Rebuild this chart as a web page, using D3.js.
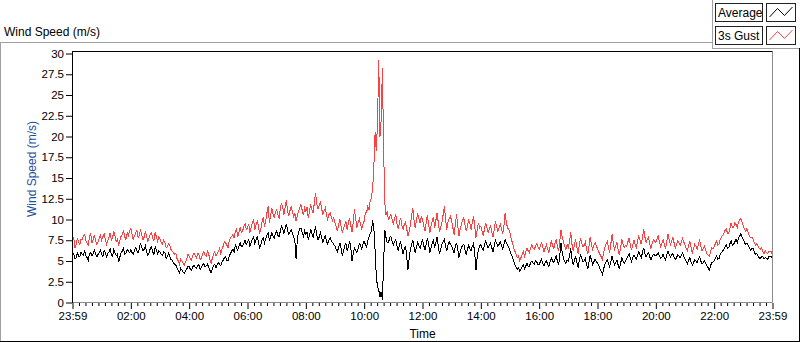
<!DOCTYPE html>
<html>
<head>
<meta charset="utf-8">
<script src="https://cdn.jsdelivr.net/npm/d3@7"></script>
<style>
  html, body { margin: 0; padding: 0; background: #ffffff; }
  svg { display: block; }
  text { font-family: "Liberation Sans", Arial, sans-serif; }
</style>
</head>
<body>
<svg id="chart" width="800" height="342"></svg>
<script>
// ---- data (2.5-minute samples starting 23:59, one row per hour) ----
const sampleMinutes = 2.5;
const avgSpeed = [
  5.6, 5.9, 5.3, 5.4, 6.0, 5.6, 5.5, 6.1, 5.8, 5.7, 6.2, 5.6, 5.4, 5.1, 5.9, 6.0, 5.6, 5.9, 6.3, 5.8, 5.5, 5.8, 6.0, 6.3,
  5.8, 5.5, 6.3, 6.0, 5.5, 5.9, 6.1, 6.5, 5.7, 5.6, 6.4, 6.0, 5.6, 5.8, 4.9, 5.5, 6.0, 6.2, 6.5, 5.8, 5.9, 6.4, 6.2, 6.0,
  6.4, 6.0, 5.8, 6.3, 6.6, 6.2, 6.0, 6.5, 7.2, 6.6, 6.2, 6.4, 6.8, 6.1, 5.7, 6.0, 6.5, 6.7, 6.1, 5.8, 6.7, 6.3, 5.9, 6.2,
  6.1, 5.8, 5.7, 6.1, 6.0, 5.3, 5.5, 5.9, 5.6, 5.2, 5.1, 4.8, 4.6, 4.5, 4.2, 3.9, 3.6, 4.1, 3.9, 3.7, 3.5, 3.8, 4.0, 4.4,
  4.3, 4.0, 3.9, 4.3, 4.5, 4.2, 4.1, 4.4, 4.6, 4.0, 4.2, 4.5, 4.7, 4.3, 4.4, 4.6, 4.3, 3.9, 3.6, 4.0, 4.4, 4.6, 4.2, 4.5,
  4.8, 4.6, 4.4, 4.9, 5.1, 5.4, 5.5, 5.1, 5.0, 5.6, 5.9, 6.2, 6.4, 6.1, 6.9, 6.6, 6.3, 6.8, 7.2, 6.7, 6.8, 7.1, 7.5, 7.0,
  7.3, 7.6, 6.8, 7.2, 7.6, 7.9, 7.1, 7.5, 7.9, 7.3, 6.5, 7.0, 7.6, 7.8, 7.2, 7.7, 8.1, 8.4, 7.5, 7.9, 8.4, 8.0, 7.8, 8.3,
  8.6, 8.1, 7.9, 8.6, 9.2, 8.8, 8.3, 8.9, 9.5, 8.7, 8.2, 8.5, 8.8, 8.3, 7.9, 7.4, 5.2, 7.6, 8.5, 8.9, 9.0, 8.4, 8.0, 8.6,
  8.2, 8.5, 7.6, 8.1, 8.8, 8.3, 7.9, 8.6, 9.0, 8.2, 7.5, 7.9, 8.4, 7.8, 7.3, 7.7, 8.0, 7.4, 7.0, 7.5, 7.8, 7.4, 7.2, 7.0,
  6.8, 6.4, 6.1, 6.7, 7.2, 6.5, 5.6, 6.2, 6.9, 7.1, 6.3, 6.7, 7.4, 6.6, 5.0, 5.9, 6.6, 6.3, 6.0, 6.5, 7.1, 6.9, 6.4, 7.0,
  7.4, 7.0, 6.7, 7.5, 7.9, 8.4, 8.6, 9.9, 8.9, 6.3, 3.1, 1.9, 1.5, 0.7, 1.3, 0.3, 4.7, 8.7, 7.8, 7.2, 7.2, 7.8, 8.0, 7.4,
  6.9, 7.3, 7.6, 6.8, 6.2, 6.9, 7.3, 6.5, 5.8, 6.4, 6.8, 5.6, 3.9, 5.3, 6.4, 7.0, 7.5, 6.7, 6.0, 6.6, 7.2, 6.9, 6.5, 7.1,
  7.5, 6.9, 6.3, 7.0, 7.8, 7.1, 6.0, 6.6, 7.2, 7.5, 6.6, 7.2, 7.9, 6.8, 5.8, 6.4, 7.0, 7.3, 7.6, 6.8, 6.2, 6.9, 7.3, 7.0,
  6.8, 6.4, 6.0, 6.7, 7.2, 6.5, 5.4, 6.1, 6.6, 6.9, 7.0, 6.3, 5.8, 6.4, 6.9, 6.5, 6.2, 6.8, 7.1, 5.9, 3.9, 5.5, 6.4, 6.8,
  7.0, 6.6, 6.3, 6.9, 7.4, 7.0, 6.6, 6.9, 7.2, 6.6, 6.1, 6.8, 7.5, 7.1, 6.8, 7.0, 7.3, 6.9, 6.4, 7.0, 7.6, 7.2, 6.9, 6.6,
  6.2, 5.8, 5.5, 5.0, 4.6, 4.3, 4.0, 4.2, 3.8, 4.0, 4.3, 4.5, 4.1, 4.4, 4.7, 4.3, 4.4, 4.8, 5.0, 4.7, 4.6, 5.0, 4.9, 4.5,
  4.6, 4.9, 5.2, 4.7, 4.4, 4.8, 5.0, 4.6, 4.3, 4.9, 5.4, 5.0, 4.8, 5.2, 5.6, 5.0, 4.5, 5.8, 7.2, 6.0, 5.3, 4.9, 4.7, 5.1,
  5.0, 5.6, 6.5, 5.2, 4.5, 5.0, 5.6, 4.9, 4.2, 5.1, 5.8, 5.3, 4.9, 5.0, 5.3, 4.6, 4.0, 4.9, 5.7, 5.1, 4.6, 4.9, 5.2, 4.9,
  4.8, 4.5, 4.1, 3.8, 3.4, 4.0, 4.6, 4.9, 5.2, 4.7, 4.3, 4.9, 5.6, 5.0, 4.5, 4.8, 5.1, 4.5, 4.0, 4.7, 5.4, 5.0, 4.7, 5.0,
  5.3, 5.6, 5.9, 5.3, 4.9, 5.4, 5.7, 5.4, 5.2, 5.7, 6.1, 5.7, 5.4, 6.0, 6.6, 5.9, 5.5, 5.8, 6.0, 5.5, 5.1, 5.5, 5.8, 5.7,
  5.6, 5.8, 6.0, 5.6, 5.3, 5.5, 5.8, 5.4, 5.1, 5.7, 6.2, 5.8, 5.5, 5.7, 5.9, 5.5, 5.2, 5.4, 5.7, 5.6, 5.4, 5.7, 6.0, 5.6,
  5.2, 5.0, 4.7, 5.1, 5.4, 4.9, 4.5, 4.8, 5.1, 5.0, 4.8, 5.2, 5.5, 5.0, 4.6, 4.8, 5.0, 4.7, 4.4, 4.2, 3.9, 4.4, 4.8, 4.9,
  5.0, 5.4, 5.6, 5.2, 5.3, 5.8, 6.0, 6.2, 6.4, 6.7, 6.9, 6.5, 6.6, 7.1, 7.4, 6.9, 7.0, 7.3, 7.6, 7.2, 7.8, 8.0, 8.3, 7.9,
  7.6, 7.2, 7.0, 7.1, 6.9, 6.6, 6.3, 6.5, 6.5, 6.1, 5.8, 5.9, 5.6, 5.4, 5.3, 5.5, 5.5, 5.2, 5.4, 5.3, 5.2, 5.5, 5.6, 5.4, 5.7
];
const gustSpeed = [
  7.3, 7.9, 6.6, 7.0, 7.8, 7.2, 7.0, 7.6, 7.6, 8.0, 8.2, 7.5, 7.1, 6.9, 7.9, 8.3, 7.2, 7.6, 8.1, 7.4, 7.0, 7.3, 7.7, 8.1,
  7.5, 7.9, 8.3, 7.6, 7.0, 7.4, 7.9, 8.4, 7.4, 7.8, 8.6, 8.0, 7.3, 7.6, 6.8, 7.5, 8.0, 8.2, 8.7, 7.9, 7.6, 8.4, 8.1, 8.6,
  8.9, 8.2, 7.6, 8.0, 8.4, 8.7, 7.8, 8.1, 8.8, 8.1, 7.5, 7.9, 8.6, 8.0, 7.3, 7.8, 8.2, 8.4, 7.7, 7.5, 8.5, 7.9, 7.4, 7.9,
  7.7, 7.2, 7.0, 7.5, 7.3, 6.6, 6.7, 7.1, 6.9, 6.4, 6.2, 6.0, 5.8, 5.9, 5.3, 5.0, 4.6, 5.2, 5.0, 4.7, 4.5, 4.9, 5.2, 5.8,
  5.6, 5.3, 5.1, 5.7, 6.0, 5.6, 5.4, 5.9, 5.8, 5.2, 5.3, 5.8, 6.1, 5.7, 5.6, 6.2, 5.9, 5.2, 4.7, 5.3, 5.8, 6.1, 5.6, 5.9,
  6.2, 6.5, 5.9, 6.4, 6.8, 7.3, 7.2, 6.9, 6.6, 7.4, 7.8, 8.0, 8.2, 7.8, 8.6, 8.9, 7.9, 8.5, 9.1, 8.4, 8.6, 9.2, 9.5, 8.8,
  9.0, 9.5, 8.4, 9.0, 9.6, 10.1, 8.7, 9.3, 9.8, 9.2, 8.3, 8.9, 9.8, 10.3, 9.1, 9.9, 10.8, 11.6, 9.6, 10.4, 11.4, 10.7, 10.2, 10.9,
  11.2, 10.6, 10.1, 11.3, 12.0, 11.4, 10.6, 11.5, 12.4, 11.0, 10.4, 11.1, 11.6, 10.9, 10.3, 10.8, 9.8, 10.4, 11.0, 11.4, 11.8, 11.1, 10.5, 11.4,
  11.0, 11.5, 10.2, 11.0, 11.8, 11.2, 10.8, 12.0, 13.2, 11.8, 11.3, 11.7, 12.2, 11.3, 10.6, 11.0, 11.4, 10.5, 10.0, 10.6, 10.8, 10.3, 9.9, 10.2,
  9.6, 9.1, 8.6, 9.4, 10.0, 9.2, 8.4, 8.9, 9.4, 9.8, 8.8, 9.5, 10.2, 9.3, 8.5, 9.6, 11.2, 10.1, 9.0, 9.6, 10.1, 9.5, 8.9, 9.4,
  9.8, 10.9, 10.8, 11.6, 11.2, 12.3, 12.6, 13.8, 16.5, 20.5, 18.2, 21.8, 29.2, 20.0, 22.0, 28.2, 18.5, 12.0, 10.5, 11.0, 9.9, 10.4, 10.6, 10.0,
  9.4, 10.1, 10.6, 9.5, 8.9, 9.6, 10.2, 9.3, 8.8, 9.4, 9.7, 8.9, 8.0, 8.6, 9.3, 10.4, 11.4, 10.0, 9.0, 9.8, 10.8, 10.1, 9.6, 10.3,
  10.0, 9.3, 8.6, 9.6, 10.5, 9.5, 8.4, 9.2, 9.8, 10.3, 9.0, 9.9, 10.8, 9.6, 8.5, 9.1, 9.6, 10.6, 11.6, 10.0, 8.8, 9.7, 10.2, 10.4,
  9.8, 9.0, 8.2, 9.4, 10.6, 9.3, 8.0, 8.8, 9.4, 9.9, 10.2, 9.3, 8.6, 9.2, 10.0, 9.5, 8.8, 9.7, 10.4, 9.1, 7.8, 8.7, 9.6, 9.0,
  9.2, 8.6, 8.0, 8.9, 9.6, 9.0, 8.4, 8.8, 9.3, 8.5, 7.9, 8.8, 9.8, 9.1, 8.6, 9.0, 9.4, 8.9, 8.3, 9.2, 10.8, 9.6, 9.0, 8.8,
  8.4, 7.6, 7.2, 6.6, 6.2, 5.8, 5.4, 5.6, 5.0, 5.4, 5.8, 6.2, 5.6, 6.1, 6.6, 6.2, 6.0, 6.6, 7.0, 6.5, 6.4, 6.8, 7.1, 6.7,
  6.4, 6.8, 7.2, 6.6, 6.1, 6.6, 7.0, 6.4, 6.0, 6.8, 7.4, 6.9, 6.5, 7.1, 7.6, 6.8, 6.2, 7.4, 8.7, 7.8, 7.3, 6.8, 6.4, 7.0,
  6.6, 7.4, 8.5, 7.0, 6.2, 6.9, 7.6, 6.7, 5.9, 6.9, 7.8, 7.1, 6.7, 6.9, 7.3, 6.4, 5.8, 6.8, 7.9, 7.0, 6.4, 6.9, 7.2, 6.8,
  6.5, 6.1, 5.8, 5.5, 5.2, 5.9, 6.6, 7.0, 7.4, 6.6, 6.0, 7.1, 8.2, 7.2, 6.4, 6.8, 7.2, 6.3, 5.7, 6.6, 7.6, 7.0, 6.6, 6.9,
  6.8, 7.3, 7.8, 7.0, 6.3, 6.9, 7.5, 7.0, 6.6, 7.4, 8.0, 7.5, 7.0, 7.8, 8.8, 7.9, 7.2, 7.6, 7.9, 7.1, 6.5, 7.1, 7.6, 7.4,
  7.2, 7.7, 8.0, 7.3, 6.7, 7.1, 7.6, 7.0, 6.5, 7.3, 8.2, 7.5, 7.0, 7.4, 7.8, 7.2, 6.6, 7.0, 7.4, 7.2, 6.9, 7.3, 7.7, 7.3,
  6.9, 6.5, 6.2, 6.9, 7.4, 6.6, 6.0, 6.5, 7.0, 6.8, 6.4, 7.0, 7.6, 6.8, 6.2, 6.5, 6.8, 6.3, 5.9, 5.7, 5.6, 6.1, 6.6, 6.5,
  6.7, 7.1, 7.4, 6.9, 7.0, 7.6, 7.9, 8.1, 8.3, 8.7, 8.9, 8.3, 8.4, 9.0, 9.6, 9.0, 9.1, 9.6, 9.4, 9.0, 9.7, 10.0, 10.1, 9.6,
  9.2, 8.8, 8.6, 8.9, 8.4, 8.0, 7.8, 7.9, 7.6, 7.2, 6.9, 7.1, 6.8, 6.5, 6.4, 6.6, 6.1, 5.9, 6.3, 6.0, 5.9, 6.1, 6.2, 6.0, 6.4
];
const xTickMinutes = [0, 120, 240, 360, 480, 600, 720, 840, 960, 1080, 1200, 1320, 1440];
const xTickLabels = ["23:59", "02:00", "04:00", "06:00", "08:00", "10:00", "12:00",
                     "14:00", "16:00", "18:00", "20:00", "22:00", "23:59"];
const yTickValues = [0, 2.5, 5, 7.5, 10, 12.5, 15, 17.5, 20, 22.5, 25, 27.5, 30];
const seriesNames = ["Average", "3s Gust"];
const seriesColors = ["#000000", "#ff4040"];

// ---- layout ----
const svg = d3.select("#chart");
const L = 72.5, R = 772.5, T = 51.5, B = 302.5;

const x = d3.scaleLinear().domain([0, 1440]).range([L, R]);
const y = d3.scaleLinear().domain([0, 30]).range([B, 53.5]);

// outer graph frame
svg.append("line").attr("x1", 0).attr("x2", 712).attr("y1", 42.5).attr("y2", 42.5).attr("stroke", "#a0a0a0");
svg.append("line").attr("x1", 0.5).attr("x2", 0.5).attr("y1", 42).attr("y2", 342).attr("stroke", "#a0a0a0");
svg.append("line").attr("x1", 0).attr("x2", 800).attr("y1", 341.5).attr("y2", 341.5).attr("stroke", "#000");
svg.append("line").attr("x1", 799.5).attr("x2", 799.5).attr("y1", 0).attr("y2", 342).attr("stroke", "#000");

// title
svg.append("text").attr("x", 4).attr("y", 36).attr("font-size", 12).attr("fill", "#000").text("Wind Speed (m/s)");

// plot area frame
svg.append("line").attr("x1", L).attr("x2", R).attr("y1", B).attr("y2", B).attr("stroke", "#8c8c8c");
svg.append("line").attr("x1", R).attr("x2", R).attr("y1", T).attr("y2", B).attr("stroke", "#8c8c8c");
svg.append("line").attr("x1", L - 0.5).attr("x2", R).attr("y1", T).attr("y2", T).attr("stroke", "#000");
svg.append("line").attr("x1", L).attr("x2", L).attr("y1", T).attr("y2", B + 0.5).attr("stroke", "#000");

// clip
svg.append("clipPath").attr("id", "plotclip").append("rect")
  .attr("x", L + 0.5).attr("y", T + 0.5).attr("width", R - L - 1).attr("height", B - T - 1);

// axes
const yAxis = d3.axisLeft(y).tickValues(yTickValues).tickSize(6).tickPadding(2)
  .tickFormat(d => String(d));
const gy = svg.append("g").attr("transform", `translate(${L - 0.5},0)`).call(yAxis);
gy.select(".domain").remove();
gy.selectAll("text").attr("font-size", 11.5).attr("font-family", "Liberation Sans, Arial, sans-serif").attr("fill", "#000");
gy.selectAll("line").attr("stroke", "#000");

const minorVals = [];
for (let k = 0; k < 12; k++) for (let j = 1; j < 9; j++) minorVals.push(k * 120 + j * 120 / 9);
const xMinor = d3.axisBottom(x).tickValues(minorVals).tickSize(3).tickFormat("");
const gxm = svg.append("g").attr("transform", `translate(0,${B + 0.5})`).call(xMinor);
gxm.select(".domain").remove();
gxm.selectAll("line").attr("stroke", "#000");

const xAxis = d3.axisBottom(x).tickValues(xTickMinutes).tickSize(6).tickPadding(3)
  .tickFormat((d, i) => xTickLabels[i]);
const gx = svg.append("g").attr("transform", `translate(0,${B + 0.5})`).call(xAxis);
gx.select(".domain").remove();
gx.selectAll("text").attr("font-size", 11.5).attr("font-family", "Liberation Sans, Arial, sans-serif").attr("fill", "#000");
gx.selectAll("line").attr("stroke", "#000");

// axis titles
svg.append("text").attr("x", (L + R) / 2).attr("y", 338).attr("text-anchor", "middle")
  .attr("font-size", 12).attr("fill", "#000").text("Time");
svg.append("text").attr("transform", "translate(36,169) rotate(-90)").attr("text-anchor", "middle")
  .attr("font-size", 12).attr("fill", "#1e4f9e").text("Wind Speed (m/s)");

// lines (aliased, like the original instrument graph)
const line = d3.line().x((d, i) => x(i * sampleMinutes)).y(d => y(d));
const plot = svg.append("g").attr("clip-path", "url(#plotclip)");
plot.append("path").datum(gustSpeed).attr("d", line).attr("fill", "none")
  .attr("stroke", seriesColors[1]).attr("stroke-width", 1).attr("shape-rendering", "crispEdges");
plot.append("path").datum(avgSpeed).attr("d", line).attr("fill", "none")
  .attr("stroke", seriesColors[0]).attr("stroke-width", 1).attr("shape-rendering", "crispEdges");

// legend
const lg = svg.append("g");
lg.append("rect").attr("x", 712).attr("y", 0).attr("width", 88).attr("height", 48).attr("fill", "#ffffff");
lg.append("line").attr("x1", 712.5).attr("x2", 712.5).attr("y1", 0).attr("y2", 48).attr("stroke", "#a0a0a0");
lg.append("line").attr("x1", 712).attr("x2", 799).attr("y1", 48.5).attr("y2", 48.5).attr("stroke", "#a0a0a0");
seriesNames.forEach((name, i) => {
  const top = 3.5 + i * 23;
  lg.append("rect").attr("x", 715.5).attr("y", top).attr("width", 47).attr("height", 18)
    .attr("fill", "#fff").attr("stroke", "#222");
  lg.append("text").attr("x", 718).attr("y", top + 13.5).attr("font-size", 12).attr("fill", "#000").text(name);
  lg.append("rect").attr("x", 766.5).attr("y", top).attr("width", 29).attr("height", 18)
    .attr("fill", "#fff").attr("stroke", "#222");
  const zz = [[769.5, top + 13.5], [777.5, top + 5], [784.5, top + 12], [792.5, top + 3.5]];
  lg.append("path").attr("d", d3.line()(zz)).attr("fill", "none").attr("stroke", seriesColors[i]).attr("stroke-width", 1);
});
</script>
</body>
</html>
